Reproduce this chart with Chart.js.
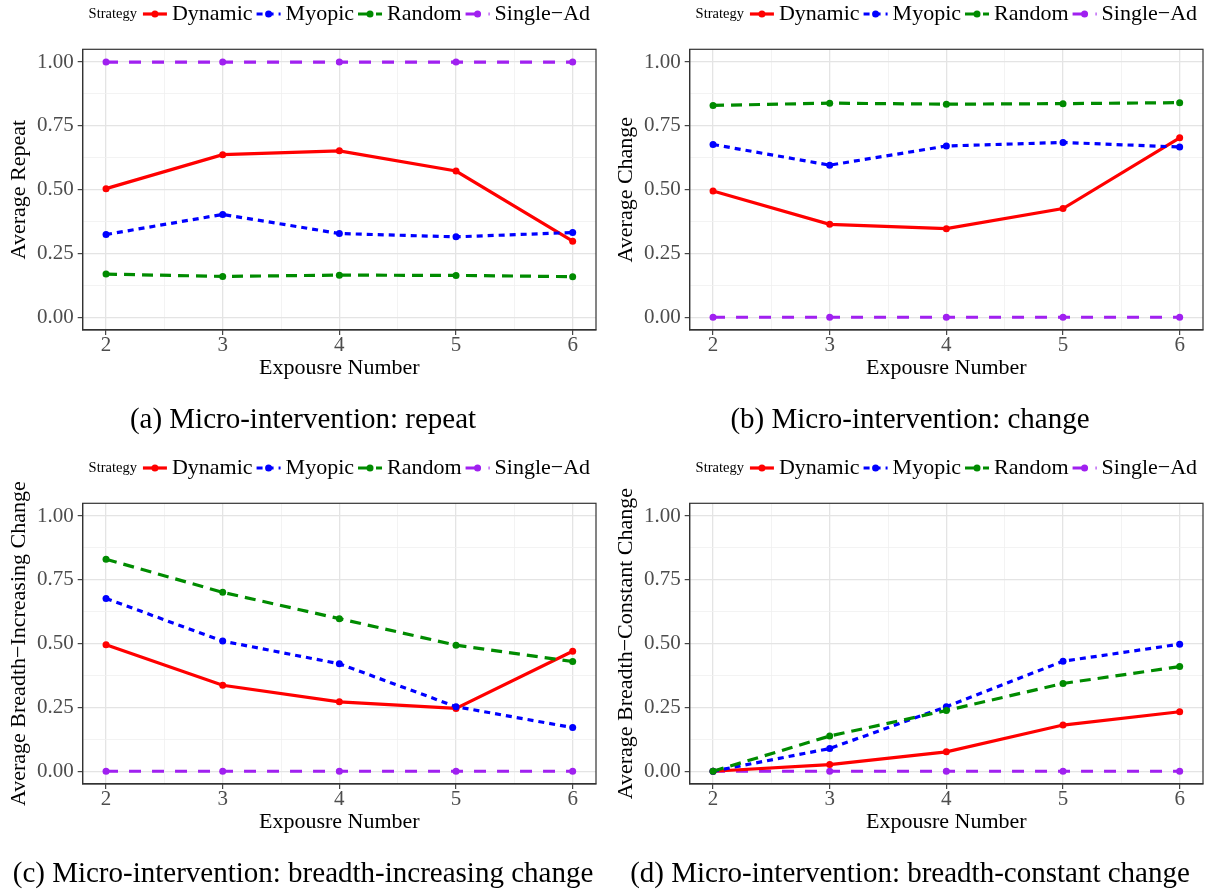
<!DOCTYPE html>
<html><head><meta charset="utf-8">
<script src="https://cdn.jsdelivr.net/npm/chart.js@4.4.1/dist/chart.umd.min.js"></script>
<style>
html,body{margin:0;padding:0;background:#fff;overflow:hidden;width:1205px;height:890px;}
.panel{position:absolute;}
canvas{display:block;}
</style></head><body>
<div class="panel" style="left:0;top:0;"><canvas id="cA" width="600" height="454"></canvas></div>
<div class="panel" style="left:607px;top:0;"><canvas id="cB" width="600" height="454"></canvas></div>
<div class="panel" style="left:0;top:454px;"><canvas id="cC" width="600" height="436"></canvas></div>
<div class="panel" style="left:607px;top:454px;"><canvas id="cD" width="600" height="436"></canvas></div>
<script>
// ---------- data ----------
const exposure = [2, 3, 4, 5, 6];
const strategies = ['Dynamic', 'Myopic', 'Random', 'Single\u2212Ad'];
const legendTitle = 'Strategy';
const xTitle = 'Expousre Number';

const xMajorTicks = [2, 3, 4, 5, 6];
const xMinorTicks = [2.5, 3.5, 4.5, 5.5];
const yMajorTicks = [0, 0.25, 0.5, 0.75, 1];
const yMinorTicks = [0.125, 0.375, 0.625, 0.875];

// (a) repeat
const dynamicRepeat = [0.504, 0.637, 0.652, 0.573, 0.298];
const myopicRepeat = [0.324, 0.403, 0.328, 0.315, 0.332];
const randomRepeat = [0.169, 0.160, 0.165, 0.164, 0.159];
const singleAdRepeat = [1, 1, 1, 1, 1];
// (b) change
const dynamicChange = [0.495, 0.364, 0.347, 0.426, 0.703];
const myopicChange = [0.677, 0.596, 0.671, 0.685, 0.667];
const randomChange = [0.830, 0.839, 0.835, 0.837, 0.841];
const singleAdChange = [0, 0, 0, 0, 0];
// (c) breadth-increasing change
const dynamicIncreasing = [0.496, 0.337, 0.272, 0.246, 0.470];
const myopicIncreasing = [0.677, 0.510, 0.421, 0.253, 0.171];
const randomIncreasing = [0.831, 0.701, 0.598, 0.494, 0.430];
const singleAdIncreasing = [0, 0, 0, 0, 0];
// (d) breadth-constant change
const dynamicConstant = [0, 0.026, 0.076, 0.181, 0.233];
const myopicConstant = [0, 0.089, 0.253, 0.431, 0.498];
const randomConstant = [0, 0.138, 0.238, 0.344, 0.410];
const singleAdConstant = [0, 0, 0, 0, 0];

const yTitles = ['Average Repeat', 'Average Change',
  'Average Breadth\u2212Increasing Change', 'Average Breadth\u2212Constant Change'];
const captions = ['(a) Micro-intervention: repeat', '(b) Micro-intervention: change',
  '(c) Micro-intervention: breadth-increasing change', '(d) Micro-intervention: breadth-constant change'];

// ---------- style ----------
const FONT = '"Liberation Serif", "Times New Roman", serif';
const seriesColors = ['#FF0000', '#0000FF', '#008B00', '#A020F0'];
const seriesDash = [[], [6, 5], [11, 7], [12, 11]];
const seriesOrder = [2, 1, 0, 3];

const panelDecor = {
  id: 'panelDecor',
  afterDraw(chart, args, opts) {
    const ctx = chart.ctx, a = chart.chartArea;
    ctx.save();
    // panel border
    ctx.strokeStyle = '#333333'; ctx.lineWidth = 1.2; ctx.setLineDash([]);
    ctx.strokeRect(a.left, a.top, a.right - a.left, a.bottom - a.top);
    // y-axis title
    ctx.save();
    ctx.translate(19, (a.top + a.bottom) / 2);
    ctx.rotate(-Math.PI / 2);
    ctx.font = '22px ' + FONT; ctx.fillStyle = '#000';
    ctx.textAlign = 'center'; ctx.textBaseline = 'middle';
    ctx.fillText(opts.yTitle, 0, 0);
    ctx.restore();
    // legend
    const ly = 14, keyW = 24, gapKT = 5, gapItem = 4, gapTitle = 6;
    ctx.textBaseline = 'middle'; ctx.textAlign = 'left';
    ctx.font = '14.5px ' + FONT;
    const tW = ctx.measureText(legendTitle).width;
    ctx.font = '22px ' + FONT;
    const ds = chart.data.datasets;
    const widths = ds.map(d => ctx.measureText(d.label).width);
    let total = tW + gapTitle;
    widths.forEach((w, i) => { total += keyW + gapKT + w + (i < widths.length - 1 ? gapItem : 0); });
    let x = (a.left + a.right) / 2 - total / 2;
    ctx.font = '14.5px ' + FONT; ctx.fillStyle = '#000';
    ctx.fillText(legendTitle, x, ly);
    x += tW + gapTitle;
    ds.forEach((d, i) => {
      ctx.save();
      ctx.strokeStyle = d.borderColor; ctx.lineWidth = d.borderWidth;
      ctx.setLineDash(d.borderDash); ctx.lineCap = 'butt';
      ctx.beginPath(); ctx.moveTo(x, ly); ctx.lineTo(x + keyW, ly); ctx.stroke();
      ctx.setLineDash([]);
      ctx.fillStyle = d.pointBackgroundColor;
      ctx.beginPath(); ctx.arc(x + keyW / 2, ly, d.pointRadius, 0, Math.PI * 2); ctx.fill();
      ctx.restore();
      x += keyW + gapKT;
      ctx.font = '22px ' + FONT; ctx.fillStyle = '#000';
      ctx.fillText(d.label, x, ly);
      x += widths[i] + gapItem;
    });
    // caption
    ctx.font = '29px ' + FONT; ctx.fillStyle = '#000';
    ctx.textAlign = 'center'; ctx.textBaseline = 'alphabetic';
    ctx.fillText(opts.caption, 303, 428);
    ctx.restore();
  }
};

function gridColor(majors) {
  return c => (c.tick && majors.includes(c.tick.value)) ? '#E4E4E4' : '#F0F0F0';
}
function gridWidth(majors) {
  return c => (c.tick && majors.includes(c.tick.value)) ? 1.3 : 0.8;
}
function tickColor(majors) {
  return c => (c.tick && majors.includes(c.tick.value)) ? '#333333' : 'rgba(0,0,0,0)';
}

function makeChart(id, seriesValues, idx, bottomPad) {
  const datasets = seriesValues.map((vals, i) => ({
    label: strategies[i],
    data: exposure.map((x, k) => ({ x: x, y: vals[k] })),
    borderColor: seriesColors[i],
    backgroundColor: seriesColors[i],
    pointBackgroundColor: seriesColors[i],
    pointBorderWidth: 0,
    pointRadius: 3.5,
    borderWidth: 3.2,
    borderDash: seriesDash[i],
    borderCapStyle: 'butt',
    tension: 0,
    fill: false,
    order: seriesOrder[i]
  }));
  return new Chart(document.getElementById(id), {
    type: 'line',
    data: { datasets },
    plugins: [panelDecor],
    options: {
      responsive: false,
      animation: false,
      devicePixelRatio: 1,
      layout: { padding: { left: 0, right: 2.7, top: 49.3, bottom: bottomPad } },
      plugins: {
        legend: { display: false },
        tooltip: { enabled: false },
        panelDecor: { yTitle: yTitles[idx], caption: captions[idx] }
      },
      scales: {
        x: {
          type: 'linear', min: 1.8, max: 6.2, bounds: 'data',
          afterBuildTicks: s => { s.ticks = xMajorTicks.concat(xMinorTicks).sort((p, q) => p - q).map(v => ({ value: v })); },
          afterFit: s => { s.height = 51; },
          ticks: {
            callback: v => xMajorTicks.includes(v) ? String(v) : '',
            font: { family: FONT, size: 21, lineHeight: 1 }, color: '#4D4D4D',
            padding: 0, autoSkip: false, maxRotation: 0, minRotation: 0
          },
          grid: { color: gridColor(xMajorTicks), lineWidth: gridWidth(xMajorTicks),
                  tickLength: 5, tickColor: tickColor(xMajorTicks), tickWidth: 1.1 },
          border: { display: true, color: '#333333', width: 1.2 },
          title: { display: true, text: xTitle, color: '#000',
                   font: { family: FONT, size: 22, lineHeight: 1.2 }, padding: { top: 0, bottom: 0 } }
        },
        y: {
          type: 'linear', min: -0.05, max: 1.05, bounds: 'data',
          afterBuildTicks: s => { s.ticks = yMajorTicks.concat(yMinorTicks).sort((p, q) => p - q).map(v => ({ value: v })); },
          afterFit: s => { s.width = 82.7; },
          ticks: {
            callback: v => yMajorTicks.includes(v) ? v.toFixed(2) : '',
            font: { family: FONT, size: 21, lineHeight: 1 }, color: '#4D4D4D',
            padding: 4, autoSkip: false
          },
          grid: { color: gridColor(yMajorTicks), lineWidth: gridWidth(yMajorTicks),
                  tickLength: 5, tickColor: tickColor(yMajorTicks), tickWidth: 1.1 },
          border: { display: true, color: '#333333', width: 1.2 },
          title: { display: false }
        }
      }
    }
  });
}

makeChart('cA', [dynamicRepeat, myopicRepeat, randomRepeat, singleAdRepeat], 0, 73);
makeChart('cB', [dynamicChange, myopicChange, randomChange, singleAdChange], 1, 73);
makeChart('cC', [dynamicIncreasing, myopicIncreasing, randomIncreasing, singleAdIncreasing], 2, 55);
makeChart('cD', [dynamicConstant, myopicConstant, randomConstant, singleAdConstant], 3, 55);
</script>
</body></html>
